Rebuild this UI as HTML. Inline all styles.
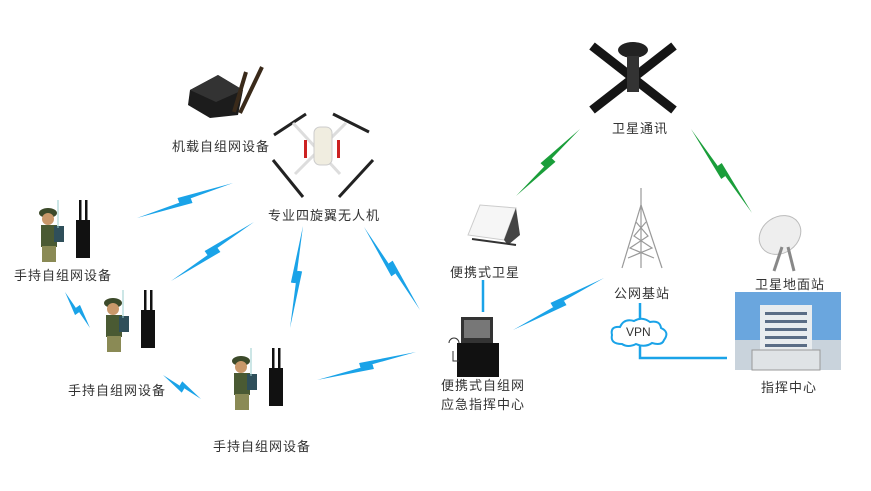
<!DOCTYPE html>
<html><head><meta charset="utf-8"><style>
body{margin:0;background:#fff;width:871px;height:491px;overflow:hidden}
svg{display:block}
text{font-family:"Liberation Sans","Noto Sans CJK SC",sans-serif;font-size:13px;letter-spacing:1px;fill:#333}
</style></head><body>
<svg id="s" width="871" height="491" viewBox="0 0 871 491">
<g id="bolts"></g>
<line x1="483" y1="280" x2="483" y2="312" stroke="#1aa3e8" stroke-width="2.5"/>
<polyline points="640,303 640,318" fill="none" stroke="#1aa3e8" stroke-width="2.5"/>
<polyline points="640,345 640,358 727,358" fill="none" stroke="#1aa3e8" stroke-width="2.5"/>
<path d="M622,344 Q610,344 612,335 Q610,326 620,327 Q624,318 634,321 Q642,316 650,322 Q660,320 661,328 Q670,332 664,340 Q662,346 652,343 Q645,348 636,344 Q628,348 622,344Z" fill="#fff" stroke="#1aa3e8" stroke-width="2"/>
<text x="626" y="336" style="font-size:12px;letter-spacing:0">VPN</text>
<g transform="translate(188,70)">
<polygon points="2,20 30,5 55,20 50,45 22,48 0,35" fill="#1c1c1c"/>
<polygon points="2,20 30,5 55,20 28,32" fill="#333"/>
<line x1="46" y1="42" x2="58" y2="2" stroke="#3a2a1a" stroke-width="4"/>
<line x1="52" y1="43" x2="74" y2="-3" stroke="#3a2a1a" stroke-width="4"/>
</g>
<g stroke="#222" stroke-width="3">
<line x1="274" y1="135" x2="306" y2="114"/><line x1="333" y1="114" x2="369" y2="132"/>
<line x1="273" y1="160" x2="303" y2="197"/><line x1="339" y1="197" x2="373" y2="160"/>
<line x1="293" y1="123" x2="340" y2="174" stroke="#ddd" stroke-width="3"/>
<line x1="346" y1="123" x2="295" y2="174" stroke="#ddd" stroke-width="3"/>
</g>
<rect x="314" y="127" width="18" height="38" rx="6" fill="#f0ede0" stroke="#ccc"/>
<rect x="304" y="140" width="3" height="18" fill="#c22"/><rect x="337" y="140" width="3" height="18" fill="#c22"/>
<g id="sold"></g>
<g transform="translate(633,78)">
<g transform="rotate(38)"><rect x="-52" y="-4.5" width="104" height="9" fill="#151515"/></g>
<g transform="rotate(-38)"><rect x="-52" y="-4.5" width="104" height="9" fill="#151515"/></g>
<ellipse cx="0" cy="-28" rx="15" ry="8" fill="#222"/>
<rect x="-6" y="-22" width="12" height="36" fill="#333"/>
</g>
<g transform="translate(468,205)">
<polygon points="0,30 12,0 48,3 36,35" fill="#f6f6f6" stroke="#ccc"/>
<polygon points="36,35 48,3 52,30 40,40" fill="#444"/>
<line x1="4" y1="34" x2="48" y2="40" stroke="#333" stroke-width="2"/>
</g>
<g stroke="#999" stroke-width="1.2" fill="none">
<line x1="641" y1="188" x2="641" y2="210"/>
<line x1="641" y1="205" x2="622" y2="268"/><line x1="641" y1="205" x2="662" y2="268"/>
<line x1="641" y1="205" x2="641" y2="268"/>
<path d="M636,222 L648,236 L630,248 L654,258 M646,222 L634,236 L652,248 L628,258"/>
</g>
<g transform="translate(780,235)">
<ellipse cx="0" cy="0" rx="22" ry="18" fill="#eee" stroke="#bbb" transform="rotate(-35)"/>
<line x1="2" y1="12" x2="-6" y2="36" stroke="#888" stroke-width="3"/>
<line x1="8" y1="12" x2="14" y2="36" stroke="#888" stroke-width="3"/>
</g>
<rect x="735" y="292" width="106" height="78" fill="#6aa6de"/>
<rect x="735" y="340" width="106" height="30" fill="#c9d3dc"/>
<rect x="760" y="305" width="52" height="60" fill="#e8ecef"/>
<g fill="#5a6d86"><rect x="765" y="312" width="42" height="3"/><rect x="765" y="320" width="42" height="3"/><rect x="765" y="328" width="42" height="3"/><rect x="765" y="336" width="42" height="3"/><rect x="765" y="344" width="42" height="3"/></g>
<rect x="752" y="350" width="68" height="20" fill="#dfe3e6" stroke="#999"/>
<g transform="translate(447,315)">
<rect x="14" y="2" width="32" height="26" fill="#333"/><rect x="17" y="5" width="26" height="18" fill="#777"/>
<rect x="10" y="28" width="42" height="34" fill="#111"/>
<path d="M2,28 a5,5 0 1 1 10,0 M6,36 v10 h6" stroke="#333" fill="none"/>
</g>
<text x="172" y="151">机载自组网设备</text>
<text x="268" y="220">专业四旋翼无人机</text>
<text x="14" y="280">手持自组网设备</text>
<text x="68" y="395">手持自组网设备</text>
<text x="213" y="451">手持自组网设备</text>
<text x="612" y="133">卫星通讯</text>
<text x="450" y="277">便携式卫星</text>
<text x="614" y="298">公网基站</text>
<text x="755" y="289">卫星地面站</text>
<text x="761" y="392">指挥中心</text>
<text x="441" y="390">便携式自组网</text>
<text x="441" y="409">应急指挥中心</text>
</svg>
<script>
var b=[[137,218,233,183,'#1aa3e8'],[171,281,254,222,'#1aa3e8'],[303,226,290,328,'#1aa3e8'],[364,227,420,310,'#1aa3e8'],[65,292,90,328,'#1aa3e8'],[163,375,201,399,'#1aa3e8'],[317,380,416,352,'#1aa3e8'],[516,196,580,129,'#1a9e3a'],[691,129,752,213,'#1a9e3a'],[513,330,604,278,'#1aa3e8']];
var g=document.getElementById('bolts'),h='';
b.forEach(function(a){var dx=a[2]-a[0],dy=a[3]-a[1],L=Math.hypot(dx,dy),nx=-dy/L,ny=dx/L,w=2.4,o=2.5;
function P(t,s,k){return (a[0]+dx*t+nx*(s*w+k*o)).toFixed(1)+','+(a[1]+dy*t+ny*(s*w+k*o)).toFixed(1)}
h+='<polygon fill="'+a[4]+'" points="'+a[0]+','+a[1]+' '+P(.56,1,1)+' '+P(.56,-1,1)+'"/>';
h+='<polygon fill="'+a[4]+'" points="'+a[2]+','+a[3]+' '+P(.44,1,-1)+' '+P(.44,-1,-1)+'"/>';
h+='<polygon fill="'+a[4]+'" points="'+P(.44,1,-1)+' '+P(.56,1,1)+' '+P(.56,-1,1)+' '+P(.44,-1,-1)+'"/>';});
g.innerHTML=h;
var s=[[38,200],[103,290],[231,348]],q='';
s.forEach(function(p){var x=p[0],y=p[1];
q+='<g transform="translate('+x+','+y+')"><ellipse cx="10" cy="13" rx="9" ry="5" fill="#3c4a2a"/><circle cx="10" cy="19" r="6" fill="#c9986a"/><rect x="3" y="25" width="16" height="22" fill="#4a5a33"/><rect x="16" y="26" width="10" height="16" fill="#2f4f5a"/><rect x="4" y="46" width="14" height="16" fill="#8a8a55"/><line x1="20" y1="0" x2="20" y2="28" stroke="#9cc" stroke-width="1"/>'+
'<rect x="41" y="0" width="2.5" height="22" fill="#111"/><rect x="47" y="0" width="2.5" height="22" fill="#111"/><rect x="38" y="20" width="14" height="38" fill="#111"/></g>';});
document.getElementById('sold').innerHTML=q;
</script>
</body></html>
